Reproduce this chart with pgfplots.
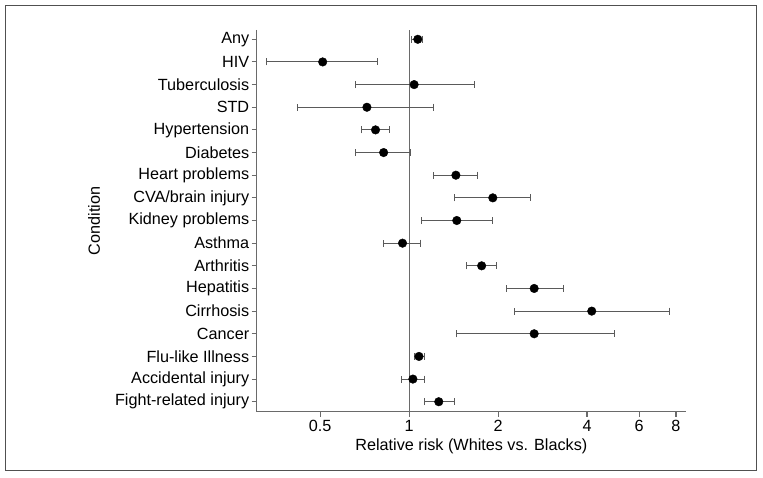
\documentclass[border=0pt]{standalone}
\usepackage{pgfplots}
\usepackage{pgfplotstable}
\pgfplotsset{compat=1.18}
\usepackage{fontspec}
\setmainfont{Liberation Sans}

\definecolor{axisgray}{HTML}{6A6A6A}
\definecolor{bargray}{HTML}{5A5A5A}
\definecolor{framegray}{HTML}{505050}

% row  RR  +err  -err  (row 1 = Any, top)
\pgfplotstableread{
y  x     plus  minus
1  1.07  0.04  0.05
2  0.51  0.27  0.18
3  1.04  0.62  0.38
4  0.72  0.49  0.30
5  0.77  0.09  0.08
6  0.82  0.19  0.16
7  1.44  0.26  0.23
8  1.92  0.65  0.49
9  1.45  0.46  0.35
10 0.95  0.14  0.13
11 1.76  0.21  0.19
12 2.65  0.67  0.51
13 4.15  3.44  1.87
14 2.65  2.29  1.20
15 1.08  0.05  0.04
16 1.03  0.10  0.09
17 1.26  0.16  0.13
}\rrdata

\begin{document}
\begin{tikzpicture}[x=1pt,y=1pt]
\useasboundingbox (0,0) rectangle (763,478);
\draw[framegray, line width=1.2pt] (5.7,7.3) rectangle (756.7,472.3);
\begin{axis}[
  at={(256.7pt,66.3pt)}, anchor=south west,
  width=429.3pt, height=381.7pt, scale only axis,
  xmode=log, xmin=0.305, xmax=8.65,
  ymin=0.59, ymax=17.44, y dir=reverse,
  axis x line*=bottom, axis y line*=left,
  axis line style={axisgray, line width=1.1pt},
  tick style={axisgray, line width=1.1pt},
  tick align=outside, major tick length=5pt,
  xminorticks=false,
  xtick={0.5,1,2,4,6,8}, xticklabels={0.5,1,2,4,6,8},
  ytick={1,...,17},
  yticklabels={Any,HIV,Tuberculosis,STD,Hypertension,Diabetes,Heart problems,CVA/brain injury,Kidney problems,Asthma,Arthritis,Hepatitis,Cirrhosis,Cancer,Flu-like Illness,Accidental injury,Fight-related injury},
  ticklabel style={font=\fontsize{16.2}{19}\selectfont},
  label style={font=\fontsize{16.2}{19}\selectfont},
  yticklabel style={xshift=1pt},
  xlabel={Relative risk (Whites vs. Blacks)},
  ylabel={Condition},
  xlabel style={at={(axis description cs:0.5,-0.09)}, anchor=center},
  ylabel style={at={(axis description cs:-0.379,0.5)}, anchor=center},
  clip=false,
]
\draw[axisgray, line width=1.1pt] ({axis cs:1,1} |- {rel axis cs:0,0}) -- ({axis cs:1,1} |- {rel axis cs:0,1});
\addplot[only marks, mark=*, mark size=4.3pt, black,
  error bars/.cd, x dir=both, x explicit, error mark=|,
  error bar style={bargray, line width=1pt},
  error mark options={bargray, line width=1pt, mark size=3.5pt}]
  table[x=x, y=y, x error plus=plus, x error minus=minus]{\rrdata};
\end{axis}
\end{tikzpicture}
\end{document}
